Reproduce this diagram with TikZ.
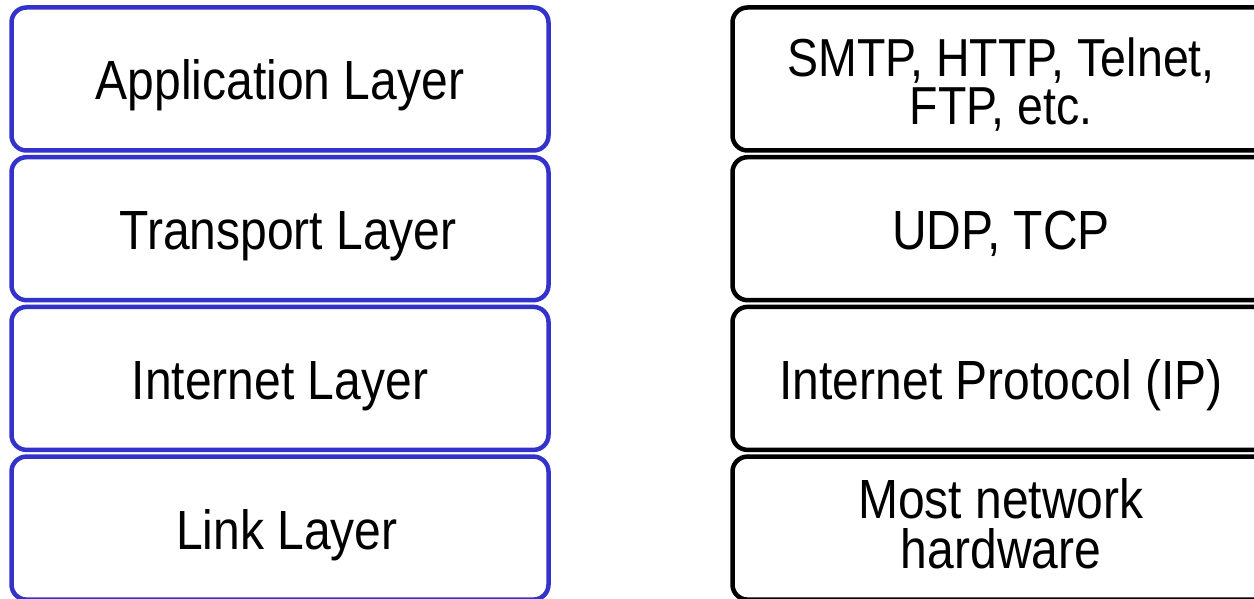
\documentclass[tikz,border=0pt]{standalone}
\usepackage{fontspec}
\setmainfont{Liberation Sans}
\usetikzlibrary{positioning}
\definecolor{layerblue}{RGB}{51,51,204}

\begin{document}
\begin{tikzpicture}[
    x=1pt, y=1pt,
    layer/.style={draw=layerblue, line width=4.5pt, rounded corners=15pt, minimum width=537pt, minimum height=143pt, inner sep=0pt, outer sep=0pt},
    proto/.style={layer, draw=black},
    label/.style={anchor=base, yscale=1.15, align=center, font=\fontsize{48}{42}\selectfont}
]
    % Frame of the slide
    \useasboundingbox (0,0) rectangle (1254,599);
    \clip (0,0) rectangle (1254,599);

    % Layer stack (left)
    \node[layer] (app) at (280,520) {};
    \node[layer, below=6.7pt of app] (trans) {};
    \node[layer, below=6.7pt of trans] (inet) {};
    \node[layer, below=6.7pt of inet] (link) {};

    % Protocol stack (right, runs off the edge)
    \node[proto, right=184pt of app] (appP) {};
    \node[proto, right=184pt of trans] (transP) {};
    \node[proto, right=184pt of inet] (inetP) {};
    \node[proto, right=184pt of link] (linkP) {};

    % Layer names
    \node[label] (appT) at ([yshift=-21pt]app.center) {Application Layer};
    \node[label] (transT) at ([xshift=8pt, yshift=-21pt]trans.center) {Transport Layer};
    \node[label] (inetT) at ([yshift=-21pt]inet.center) {Internet Layer};
    \node[label] (linkT) at ([xshift=7pt, yshift=-21pt]link.center) {Link Layer};

    % Protocol names (two-line ones sit on their last line)
    \node[label, font=\fontsize{46.5}{42.5}\selectfont] (appPT) at ([yshift=-46pt]appP.center) {SMTP, HTTP, Telnet,\\FTP, etc.};
    \node[label] (transPT) at ([yshift=-21pt]transP.center) {UDP, TCP};
    \node[label] (inetPT) at ([yshift=-21pt]inetP.center) {Internet Protocol (IP)};
    \node[label, font=\fontsize{48}{43}\selectfont] (linkPT) at ([yshift=-40pt]linkP.center) {Most network\\hardware};
\end{tikzpicture}
\end{document}
